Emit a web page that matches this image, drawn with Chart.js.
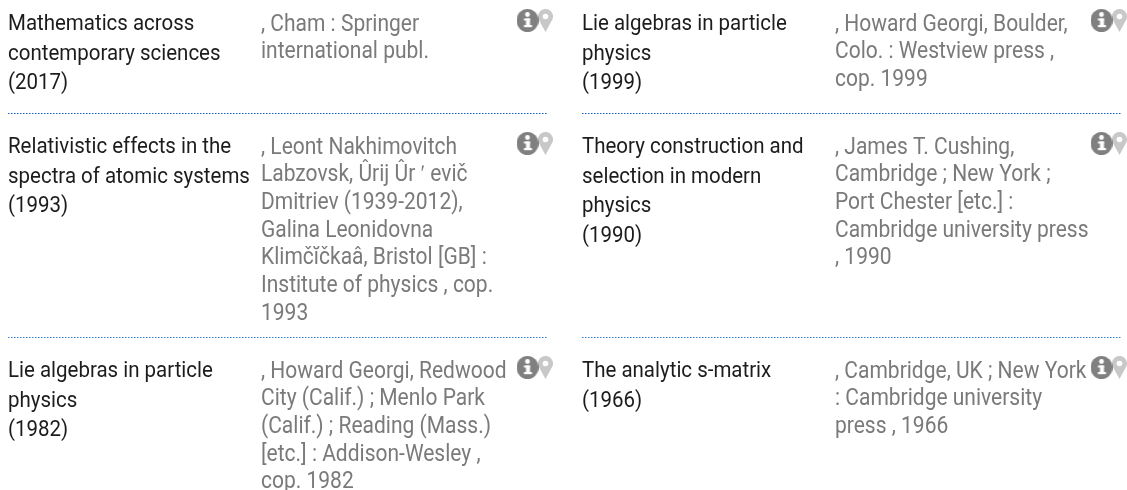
<!DOCTYPE html>
<html>
<head>
<meta charset="utf-8">
<style>
  html, body { margin: 0; padding: 0; background: #fff; }
  #wrap { width: 1127px; height: 490px; }
</style>
<script src="https://cdn.jsdelivr.net/npm/chart.js@4"></script>
</head>
<body>
<div id="wrap"><canvas id="myChart" width="1127" height="490"></canvas></div>
<script>
// one entry per record, left column then right column
var titles = [
  ['Mathematics across', 'contemporary sciences', '(2017)'],
  ['Lie algebras in particle', 'physics', '(1999)'],
  ['Relativistic effects in the', 'spectra of atomic systems', '(1993)'],
  ['Theory construction and', 'selection in modern', 'physics', '(1990)'],
  ['Lie algebras in particle', 'physics', '(1982)'],
  ['The analytic s-matrix', '(1966)']
];
var details = [
  [', Cham : Springer', 'international publ.'],
  [', Howard Georgi, Boulder,', 'Colo. : Westview press ,', 'cop. 1999'],
  [', Leont Nakhimovitch', 'Labzovsk, Ûrij Ûr ʹ evič', 'Dmitriev (1939-2012),', 'Galina Leonidovna', 'Klimčĭčkaâ, Bristol [GB] :', 'Institute of physics , cop.', '1993'],
  [', James T. Cushing,', 'Cambridge ; New York ;', 'Port Chester [etc.] :', 'Cambridge university press', ', 1990'],
  [', Howard Georgi, Redwood', 'City (Calif.) ; Menlo Park', '(Calif.) ; Reading (Mass.)', '[etc.] : Addison-Wesley ,', 'cop. 1982'],
  [', Cambridge, UK ; New York', ': Cambridge university', 'press , 1966']
];

var colX = [8, 582];
var rowY = [30, 153, 377];
var detailOffset = 253;
var titleLine = 29.7;
var detailLine = 27.7;
var titleFont = 22.5, titleSqueeze = 0.91;
var detailFont = 23, detailSqueeze = 0.913;
var infoOffset = 519.5;
var pinOffset = 537.5;
var iconRise = 9.5;
var ruleRows = [113.5, 337.5];
var ruleColors = ['#0f5fc0', '#2f80d0'];
var ruleWidth = 539;

function infoIcon() {
  var c = document.createElement('canvas');
  c.width = 22; c.height = 23;
  var g = c.getContext('2d');
  g.fillStyle = '#808080';
  g.beginPath(); g.ellipse(11, 11.5, 11, 11.5, 0, 0, Math.PI * 2); g.fill();
  g.fillStyle = '#fff';
  g.beginPath(); g.arc(11, 5.5, 2.4, 0, Math.PI * 2); g.fill();
  g.fillRect(7.5, 9.5, 6, 2);
  g.fillRect(9.5, 9.5, 4, 7.5);
  g.fillRect(7.5, 16, 8, 2.2);
  return c;
}
function pinIcon() {
  var c = document.createElement('canvas');
  c.width = 15; c.height = 23;
  var g = c.getContext('2d');
  g.fillStyle = '#c8c8c8';
  g.beginPath();
  g.arc(7.5, 7.5, 7.5, Math.PI * 0.88, Math.PI * 0.12);
  g.lineTo(7.5, 23);
  g.closePath();
  g.fill();
  g.fillStyle = '#fff';
  g.beginPath(); g.arc(7.5, 7.5, 2.8, 0, Math.PI * 2); g.fill();
  return c;
}

var infoPoints = [], pinPoints = [], textRows = [], rules = [];
titles.forEach(function(t, i) {
  var x = colX[i % 2], y = rowY[Math.floor(i / 2)];
  infoPoints.push({ x: x + infoOffset, y: y - iconRise });
  pinPoints.push({ x: x + pinOffset, y: y - iconRise });
  t.forEach(function(s, k) {
    textRows.push({ x: x, y: y + k * titleLine, text: s, size: titleFont, squeeze: titleSqueeze, color: '#1c1c1c' });
  });
  details[i].forEach(function(s, k) {
    textRows.push({ x: x + detailOffset, y: y + 0.5 + k * detailLine, text: s, size: detailFont, squeeze: detailSqueeze, color: '#7a7a7a' });
  });
});
colX.forEach(function(x) {
  ruleRows.forEach(function(y, k) {
    rules.push({ color: ruleColors[k], data: [{ x: x, y: y }, { x: x + ruleWidth, y: y }] });
  });
});

var textPlugin = {
  id: 'recordText',
  afterDatasetsDraw: function(chart) {
    var g = chart.ctx, sx = chart.scales.x, sy = chart.scales.y;
    textRows.forEach(function(r) {
      g.save();
      g.textBaseline = 'alphabetic';
      g.textAlign = 'left';
      g.font = r.size + 'px Roboto';
      g.fillStyle = r.color;
      // the reference text is narrower than plain Roboto at this height
      g.translate(sx.getPixelForValue(r.x), sy.getPixelForValue(r.y));
      g.scale(r.squeeze, 1);
      g.fillText(r.text, 0, 0);
      g.restore();
    });
  }
};

var datasets = rules.map(function(r) {
  return {
    type: 'line', data: r.data, borderColor: r.color, borderWidth: 1,
    borderDash: [1.5, 1.5], pointRadius: 0
  };
});
datasets.push({ type: 'scatter', data: infoPoints, pointStyle: infoIcon() });
datasets.push({ type: 'scatter', data: pinPoints, pointStyle: pinIcon() });

var chart = new Chart('myChart', {
  type: 'scatter',
  data: { datasets: datasets },
  options: {
    responsive: false,
    animation: false,
    layout: { padding: 0, autoPadding: false },
    plugins: { legend: { display: false }, tooltip: { enabled: false } },
    scales: {
      x: { type: 'linear', min: 0, max: 1127, display: false },
      y: { type: 'linear', min: 0, max: 490, reverse: true, display: false }
    }
  },
  plugins: [textPlugin]
});
</script>
</body>
</html>
